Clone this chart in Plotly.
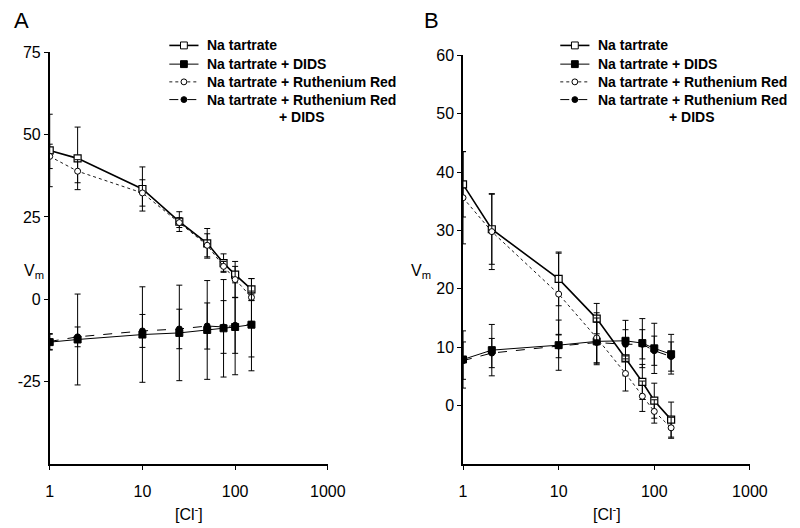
import plotly.graph_objects as go

# ---- data ----
cl = [1, 2, 10, 25, 50, 75, 100, 150]

series_names = ["Na tartrate", "Na tartrate + DIDS", "Na tartrate + Ruthenium Red",
                "Na tartrate + Ruthenium Red"]
series_extra_line = ["", "", "", "+ DIDS"]

# Panel A
a_na = [45.2, 42.8, 33.5, 23.6, 17.0, 11.0, 7.5, 3.0]
a_na_err = [11, 9.5, 6.7, 3.0, 4.5, 2.8, 2.5, 3.3]
a_na_dids = [-13.0, -12.2, -10.7, -10.2, -9.3, -8.8, -8.4, -7.7]
a_na_dids_err = [2.4, 13.8, 14.5, 14.5, 15, 14.8, 14.5, 14]
a_rr = [43.4, 38.9, 32.3, 23.3, 16.4, 10.0, 6.0, 0.6]
a_rr_err = [3.7, 3.5, 4.0, 1.5, 3.5, 1.5, 5.5, 1.0]
a_rr_dids = [-12.8, -11.4, -9.6, -9.0, -8.1, -8.4, -7.9, -7.5]
a_rr_dids_err = [2.4, 3.0, 5.0, 6.0, 7.0, 8.0, 8.5, 10.0]

# Panel B
b_na = [37.9, 30.2, 21.7, 14.9, 8.1, 4.05, 0.84, -2.4]
b_na_err = [5.6, 6.0, 4.6, 2.6, 3.0, 3.0, 3.0, 3.0]
b_na_dids = [7.9, 9.5, 10.35, 11.0, 11.1, 10.7, 9.8, 8.8]
b_na_dids_err = [4.9, 4.4, 4.3, 4.0, 3.5, 4.2, 4.3, 3.4]
b_rr = [35.6, 29.8, 19.1, 11.6, 5.5, 1.6, -1.0, -3.8]
b_rr_err = [7.9, 6.5, 7.0, 4.3, 3.0, 2.6, 2.0, 1.8]
b_rr_dids = [7.7, 9.0, 10.2, 10.8, 10.5, 10.5, 9.4, 8.4]
b_rr_dids_err = [3.2, 2.5, 2.0, 3.5, 2.5, 2.5, 2.5, 2.5]

a_yticks = [75, 50, 25, 0, -25]
b_yticks = [60, 50, 40, 30, 20, 10, 0]
x_ticks = [1, 10, 100, 1000]

# ---- styles ----
line_styles = [dict(color="black", width=1.6, dash="solid"),
               dict(color="black", width=1.0, dash="solid"),
               dict(color="black", width=0.9, dash="dot"),
               dict(color="black", width=1.0, dash="dash")]
marker_styles = [dict(symbol="square", size=7, color="white", line=dict(color="black", width=1.2)),
                 dict(symbol="square", size=7, color="black", line=dict(color="black", width=1)),
                 dict(symbol="circle", size=6, color="white", line=dict(color="black", width=1)),
                 dict(symbol="circle", size=6, color="black", line=dict(color="black", width=1))]

fig = go.Figure()

panels = [
    ("x", "y", [(a_na, a_na_err), (a_na_dids, a_na_dids_err), (a_rr, a_rr_err), (a_rr_dids, a_rr_dids_err)]),
    ("x2", "y2", [(b_na, b_na_err), (b_na_dids, b_na_dids_err), (b_rr, b_rr_err), (b_rr_dids, b_rr_dids_err)]),
]
for xa, ya, data in panels:
    for i, (vals, errs) in enumerate(data):
        fig.add_trace(go.Scatter(
            x=cl, y=vals, mode="lines+markers", name=series_names[i] + (" " + series_extra_line[i] if series_extra_line[i] else ""),
            xaxis=xa, yaxis=ya, showlegend=False,
            error_y=dict(type="data", array=errs, visible=True, color="black", thickness=1, width=3),
            line=line_styles[i], marker=marker_styles[i]))

W, H = 800, 528
def px(v): return v / W
def py(v): return 1 - v / H

axis_common = dict(showline=True, linecolor="black", linewidth=1.5, ticks="outside", ticklen=4,
                   tickcolor="black", showgrid=False, zeroline=False, mirror=False,
                   tickfont=dict(family="Liberation Sans, Arial", size=16, color="black"))

fig.update_layout(
    autosize=True, margin=dict(l=0, r=0, t=0, b=0),
    plot_bgcolor="white", paper_bgcolor="white", showlegend=False,
    xaxis=dict(type="log", range=[0, 3], domain=[px(47), px(333)], anchor="y",
               tickvals=x_ticks, ticktext=[str(t) for t in x_ticks], ticklabelstandoff=8, **axis_common),
    yaxis=dict(range=[-50, 75], domain=[py(463), py(45)], anchor="x",
               tickvals=a_yticks, ticktext=[str(t) for t in a_yticks], **axis_common),
    xaxis2=dict(type="log", range=[0, 3], domain=[px(472), px(767)], anchor="y2",
                tickvals=x_ticks, ticktext=[str(t) for t in x_ticks], ticklabelstandoff=8, **axis_common),
    yaxis2=dict(range=[-10, 60], domain=[py(463), py(48)], anchor="x2",
                tickvals=b_yticks, ticktext=[str(t) for t in b_yticks], **axis_common),
)

# ---- hand-built legends (one per panel) ----
leg_font = dict(family="Liberation Sans, Arial", size=14, color="black", weight="bold")
row_y = [38, 57, 75, 93]
extra_dy = 17.5
for (x_line0, x_text, x_extra) in [(170, 208, 282), (572, 610, 683)]:
    for i in range(4):
        y = row_y[i]
        ls = line_styles[i]
        fig.add_shape(type="line", xref="paper", yref="paper",
                      x0=px(x_line0), x1=px(x_line0 + 30), y0=py(y), y1=py(y),
                      line=dict(color="black", width=ls["width"], dash=ls["dash"]))
        ms = marker_styles[i]
        cx = x_line0 + 15
        r = ms["size"] / 2
        fig.add_shape(type="rect" if ms["symbol"] == "square" else "circle",
                      xref="paper", yref="paper",
                      x0=px(cx - r), x1=px(cx + r), y0=py(y - r), y1=py(y + r),
                      fillcolor=ms["color"], line=dict(color="black", width=1))
        fig.add_annotation(x=px(x_text), y=py(y), xref="paper", yref="paper", text=series_names[i],
                           showarrow=False, xanchor="left", yanchor="middle", font=leg_font,
                           borderpad=0)
        if series_extra_line[i]:
            fig.add_annotation(x=px(x_extra), y=py(y + extra_dy), xref="paper", yref="paper",
                               text=series_extra_line[i], showarrow=False, xanchor="left",
                               yanchor="middle", font=leg_font, borderpad=0)

ann_font = dict(family="Liberation Sans, Arial", color="black")
fig.add_annotation(x=px(8), y=py(13), xref="paper", yref="paper", text="A", showarrow=False,
                   xanchor="left", yanchor="middle", font=dict(size=22, **ann_font))
fig.add_annotation(x=px(430), y=py(13), xref="paper", yref="paper", text="B", showarrow=False,
                   xanchor="left", yanchor="middle", font=dict(size=22, **ann_font))
for xx in (18, 416):
    fig.add_annotation(x=px(xx), y=py(268), xref="paper", yref="paper", text="V<sub>m</sub>",
                       showarrow=False, xanchor="left", yanchor="middle", font=dict(size=16, **ann_font))
for xx in (190, 620):
    fig.add_annotation(x=px(xx), y=py(513), xref="paper", yref="paper", text="[Cl<sup>-</sup>]",
                       showarrow=False, xanchor="center", yanchor="middle", font=dict(size=16, **ann_font))

fig.write_html("out.html", config={"responsive": True, "displayModeBar": False},
               default_width="100vw", default_height="100vh",
               post_script=("document.body.style.margin='0';document.body.style.overflow='hidden';"
                            "Plotly.Plots.resize(document.getElementById('{plot_id}'));"))
